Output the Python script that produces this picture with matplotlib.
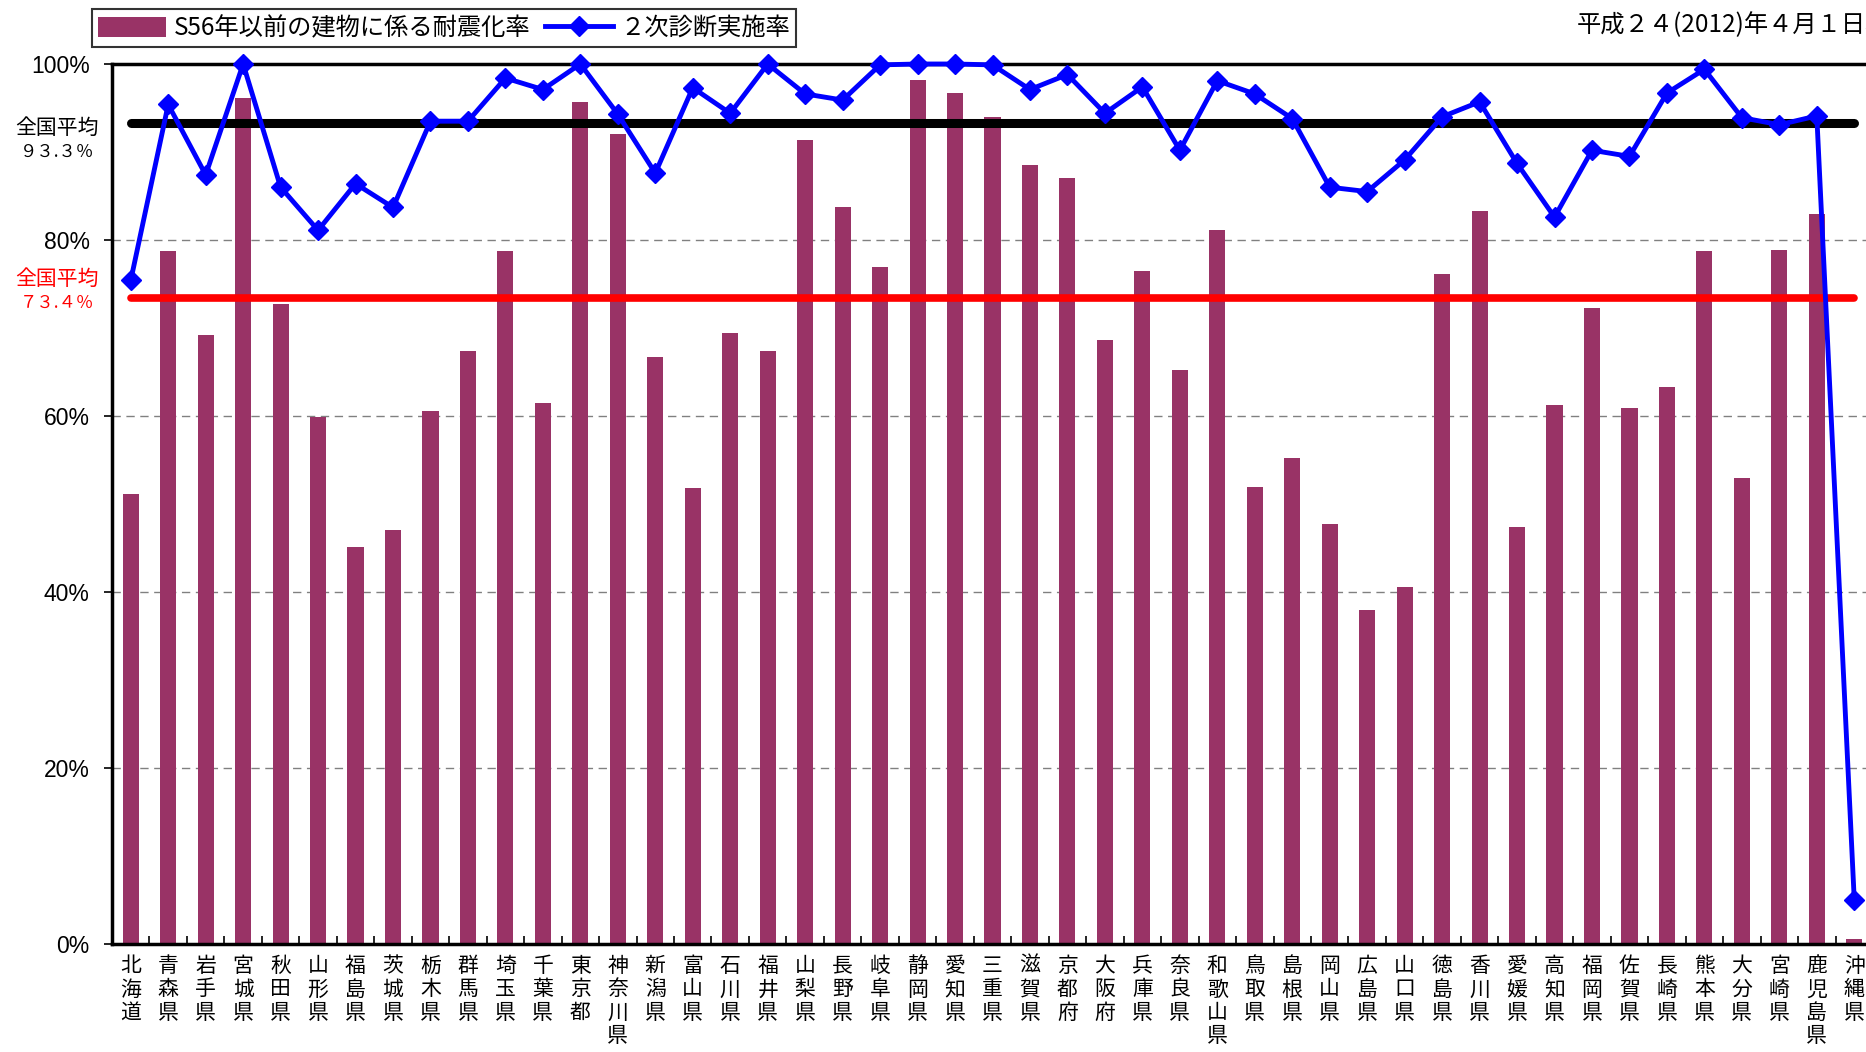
import matplotlib
matplotlib.use('Agg')
import matplotlib.pyplot as plt
from matplotlib.lines import Line2D
from matplotlib.patches import Patch
import numpy as np

prefectures = ['北海道', '青森県', '岩手県', '宮城県', '秋田県', '山形県', '福島県', '茨城県',
               '栃木県', '群馬県', '埼玉県', '千葉県', '東京都', '神奈川県', '新潟県', '富山県',
               '石川県', '福井県', '山梨県', '長野県', '岐阜県', '静岡県', '愛知県', '三重県',
               '滋賀県', '京都府', '大阪府', '兵庫県', '奈良県', '和歌山県', '鳥取県', '島根県',
               '岡山県', '広島県', '山口県', '徳島県', '香川県', '愛媛県', '高知県', '福岡県',
               '佐賀県', '長崎県', '熊本県', '大分県', '宮崎県', '鹿児島県', '沖縄県']

taishin_rate = [51.1, 78.7, 69.2, 96.1, 72.7, 59.9, 45.1, 47.0, 60.6, 67.4, 78.7, 61.5,
                95.7, 92.1, 66.7, 51.8, 69.4, 67.4, 91.4, 83.7, 76.9, 98.2, 96.7, 94.0,
                88.5, 87.0, 68.6, 76.5, 65.2, 81.1, 51.9, 55.2, 47.7, 37.9, 40.6, 76.1,
                83.3, 47.4, 61.3, 72.3, 60.9, 63.3, 78.7, 53.0, 78.9, 83.0, 0.6]

shindan_rate = [75.4, 95.4, 87.4, 100.0, 86.0, 81.1, 86.4, 83.7, 93.5, 93.5, 98.4, 97.1,
                100.0, 94.3, 87.6, 97.3, 94.4, 100.0, 96.6, 95.9, 99.9, 100.0, 100.0, 99.9,
                97.1, 98.8, 94.4, 97.4, 90.2, 98.1, 96.6, 93.8, 86.0, 85.5, 89.1, 94.0,
                95.7, 88.7, 82.6, 90.2, 89.5, 96.7, 99.4, 93.9, 93.1, 94.1, 5.0]

avg_shindan = 93.3
avg_taishin = 73.4
yticks = [0, 20, 40, 60, 80, 100]
ytick_labels = ['0%', '20%', '40%', '60%', '80%', '100%']
legend_labels = ['S56年以前の建物に係る耐震化率', '２次診断実施率']
date_text = '平成２４(2012)年４月１日現在'

plt.rcParams['font.family'] = ['Noto Sans CJK JP', 'DejaVu Sans']

W, H = 1866, 1052
fig = plt.figure(figsize=(W / 100, H / 100), dpi=100)
ax = fig.add_axes([112 / W, 1 - 944 / H, (1873 - 112) / W, (944 - 64) / H])

x = np.arange(len(prefectures))
bar_color = '#993366'
ax.bar(x, taishin_rate, width=0.43, color=bar_color, zorder=2)
ax.plot([x[0], x[-1]], [avg_shindan] * 2, color='black', lw=6.5,
        solid_capstyle='round', zorder=3)
ax.plot([x[0], x[-1]], [avg_taishin] * 2, color='red', lw=5.5,
        solid_capstyle='round', zorder=3)
ax.plot(x, shindan_rate, color='blue', lw=3.5, marker='D', ms=10,
        zorder=4, clip_on=False)

ax.set_xlim(-0.5, len(prefectures) - 0.5)
ax.set_ylim(0, 100)
ax.set_axisbelow(True)
ax.yaxis.grid(True, linestyle=(0, (6, 4)), color='#808080', lw=1)

ax.set_yticks(yticks)
ax.set_yticklabels(ytick_labels, fontsize=16.5, family=['Liberation Sans', 'DejaVu Sans'])
ax.tick_params(axis='y', direction='out', length=6, width=1.2, pad=10)

ax.set_xticks(x)
ax.set_xticklabels(['\n'.join(p) for p in prefectures], fontsize=15,
                   family=['Noto Sans CJK JP'], linespacing=1.08, va='top')
ax.tick_params(axis='x', which='major', length=0, pad=8)
ax.set_xticks(x[:-1] + 0.5, minor=True)
ax.tick_params(axis='x', which='minor', direction='in', length=6, width=1.2)

for s in ['left', 'bottom', 'top', 'right']:
    ax.spines[s].set_linewidth(2.5)
    ax.spines[s].set_color('black')

handles = [Patch(facecolor=bar_color, edgecolor='none'),
           Line2D([0], [0], color='blue', lw=3.5, marker='D', ms=10)]
leg = fig.legend(handles, legend_labels, loc='upper left',
                 bbox_to_anchor=(92 / W, 1 - 9 / H), ncol=2, fontsize=17.5,
                 frameon=True, fancybox=False, edgecolor='black',
                 handlelength=2.8, handleheight=0.9, handletextpad=0.3,
                 columnspacing=0.6, borderpad=0.25, borderaxespad=0)
leg.get_frame().set_linewidth(1.5)

fig.text(1577 / W, 1 - 25 / H, date_text, fontsize=17.5, va='center', ha='left')

fig.text(57 / W, 1 - 128 / H, '全国平均', fontsize=15, ha='center', va='center')
fig.text(57 / W, 1 - 152 / H, '９３.３％', fontsize=12.5, ha='center', va='center')
fig.text(57 / W, 1 - 279 / H, '全国平均', fontsize=15, ha='center', va='center', color='red')
fig.text(57 / W, 1 - 303 / H, '７３.４％', fontsize=12.5, ha='center', va='center', color='red')

fig.savefig('out.png', dpi=100)
